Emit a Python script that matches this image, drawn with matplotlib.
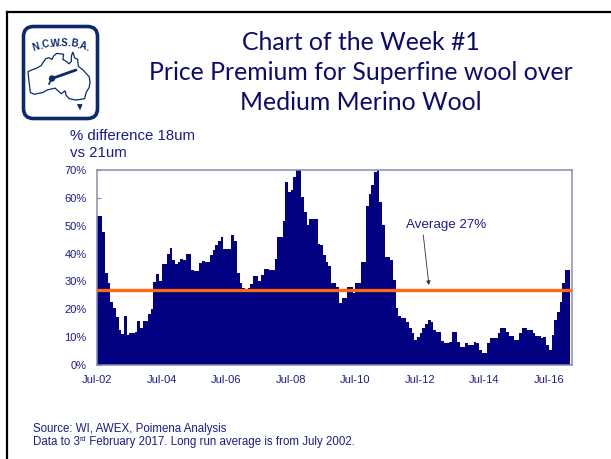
import numpy as np
import matplotlib
matplotlib.use('Agg')
import matplotlib.pyplot as plt
from matplotlib.patches import FancyBboxPatch, Polygon, Circle
from matplotlib.lines import Line2D

# ---------------- data (monthly, Jul-2002 .. Feb-2017) ----------------
premium = [
    53.6, 53.6, 47.9, 33.0, 29.3, 22.5, 20.6, 17.3, 12.6, 11.0,
    17.7, 10.8, 11.4, 11.4, 12.0, 15.8, 13.4, 15.8, 15.8, 18.2,
    20.1, 29.7, 32.5, 30.2, 36.1, 36.1, 39.7, 41.9, 37.7, 36.1,
    37.1, 38.0, 37.7, 39.7, 39.8, 34.1, 33.7, 33.7, 36.5, 37.3,
    36.9, 36.9, 39.5, 41.3, 43.0, 44.5, 46.0, 41.6, 41.6, 41.6,
    46.7, 44.5, 32.9, 29.3, 27.8, 26.5, 27.5, 29.0, 31.9, 31.9,
    30.2, 32.3, 34.5, 34.5, 34.0, 34.0, 37.9, 46.0, 46.0, 51.7,
    65.8, 62.0, 62.8, 67.6, 71.0, 71.0, 60.4, 55.0, 50.3, 52.4,
    52.4, 52.4, 43.3, 43.0, 39.5, 36.9, 35.6, 29.3, 29.3, 28.0,
    22.1, 23.9, 23.9, 27.9, 27.9, 25.7, 29.3, 29.3, 36.9, 36.9,
    57.0, 61.3, 64.6, 69.4, 71.0, 58.6, 50.3, 38.9, 38.9, 37.7,
    30.5, 20.3, 17.7, 16.8, 16.8, 15.6, 13.2, 11.4, 9.0, 10.2,
    11.5, 13.2, 14.6, 16.2, 15.6, 12.6, 12.0, 12.0, 8.6, 7.8,
    7.8, 8.4, 12.0, 12.0, 8.4, 6.6, 6.6, 7.8, 7.2, 7.2,
    8.4, 7.8, 5.4, 4.2, 4.2, 7.8, 9.6, 9.8, 9.8, 11.4,
    13.2, 13.2, 12.0, 10.5, 10.5, 9.0, 9.0, 11.4, 13.2, 13.2,
    12.6, 12.6, 11.4, 10.5, 10.5, 9.6, 10.2, 7.2, 5.4, 10.8,
    16.2, 19.1, 22.7, 29.3, 34.1, 34.1,
]
average = 26.8
average_label = "Average 27%"
x_tick_months = [0, 24, 48, 72, 96, 120, 144, 168]
x_tick_labels = ["Jul-02", "Jul-04", "Jul-06", "Jul-08", "Jul-10", "Jul-12", "Jul-14", "Jul-16"]
y_ticks = [0, 10, 20, 30, 40, 50, 60, 70]
y_tick_labels = ["0%", "10%", "20%", "30%", "40%", "50%", "60%", "70%"]

title_lines = ["Chart of the Week #1",
               "Price Premium for Superfine wool over",
               "Medium Merino Wool"]
ylabel_lines = ["% difference 18um", "vs 21um"]

# ---------------- styling ----------------
NAVY = "#000080"
TEXT = "#1c1c8c"
TITLE = "#0b0b6e"
ORANGE = "#FF6A10"
SPINE = "#8a8ab4"
LOGO = "#0a2a6e"
SANS = ["Liberation Sans", "DejaVu Sans"]

W, H = 611, 459
fig = plt.figure(figsize=(W / 100, H / 100), dpi=100)
fig.patch.set_facecolor("white")


def fx(px):
    return px / W


def fy(py):
    return 1 - py / H


# page frame (left & top edges)
fig.add_artist(Line2D([fx(7), fx(7)], [fy(12), fy(462)], color="black", lw=1.6))
fig.add_artist(Line2D([fx(7), fx(615)], [fy(12), fy(12)], color="black", lw=1.6))

# ---------------- chart ----------------
ax = fig.add_axes([fx(97), fy(365), fx(572) - fx(97), fy(170) - fy(365)])
n = len(premium)
edges = np.arange(n + 1)
ax.fill_between(edges, list(premium) + [premium[-1]], 0, step="post",
                color=NAVY, lw=0, zorder=2)
ax.axhline(average, color=ORANGE, lw=2.4, zorder=3)
ax.set_xlim(0, 176.6)
ax.set_ylim(0, 70)
ax.set_axisbelow(True)
for s in ax.spines.values():
    s.set_color(SPINE)
    s.set_linewidth(1.1)
ax.set_yticks(y_ticks)
ax.set_yticklabels(y_tick_labels, family=SANS, fontsize=8, color=TEXT)
ax.set_xticks(x_tick_months)
ax.set_xticklabels(x_tick_labels, family=SANS, fontsize=8, color=TEXT)
ax.tick_params(axis="y", direction="in", length=3, color=SPINE, pad=7.5)
ax.tick_params(axis="x", length=0, pad=7)

ax.annotate("", xy=(123.4, 28.7), xytext=(121.3, 46.7),
            arrowprops=dict(arrowstyle="-|>", color="#333333", lw=0.6,
                            mutation_scale=6, shrinkA=0, shrinkB=0), zorder=4)
ax.text(129.7, 50.3, average_label, ha="center", va="center",
        family=SANS, fontsize=9.6, color=TEXT)

# ---------------- titles / texts ----------------
for i, line in enumerate(title_lines):
    fig.text(fx(361), fy(50 + 30 * i), line, ha="center", va="baseline",
             family=["Lato", "DejaVu Sans"], fontsize=17.8, color=TITLE)

fig.text(fx(70), fy(140), ylabel_lines[0], ha="left", va="baseline",
         family=SANS, fontsize=10.8, color=TEXT)
fig.text(fx(70), fy(157), ylabel_lines[1], ha="left", va="baseline",
         family=SANS, fontsize=10.8, color=TEXT)

fig.text(fx(33), fy(432), "Source: WI, AWEX, Poimena Analysis", ha="left",
         va="baseline", family=SANS, fontsize=8.3, color=TEXT)

renderer = fig.canvas.get_renderer()
t1 = fig.text(fx(33), fy(445), "Data to 3", ha="left", va="baseline",
              family=SANS, fontsize=8.3, color=TEXT)
bb = t1.get_window_extent(renderer)
t2 = fig.text(bb.x1 / W, fy(441), "rd", ha="left", va="baseline",
              family=SANS, fontsize=5.3, color=TEXT)
bb2 = t2.get_window_extent(renderer)
fig.text(bb2.x1 / W, fy(445), " February 2017. Long run average is from July 2002.",
         ha="left", va="baseline", family=SANS, fontsize=8.3, color=TEXT)

# ---------------- logo ----------------
lax = fig.add_axes([fx(20), fy(122), fx(101) - fx(20), fy(23) - fy(122)])
lax.set_xlim(20, 101)
lax.set_ylim(122, 23)
lax.axis("off")
lax.add_patch(FancyBboxPatch((23.5, 26.5), 74, 92,
                             boxstyle="round,pad=0,rounding_size=10",
                             lw=2.6, ec=LOGO, fc="white"))


def aus(lon, lat):
    return 28 + (lon - 113.5) / 40 * 62, 52 + (-10.7 - lat) / 27.6 * 48


outline = [(113.5, -22), (114, -26.5), (115, -34), (117.5, -35), (123, -34),
           (126, -32.5), (131, -31.5), (135, -34.7), (137.5, -33), (138, -35.5),
           (140, -37.5), (144, -38.3), (147, -38), (150, -37.5), (151, -34),
           (153, -31), (153.5, -28), (153, -25), (151, -23), (149, -21),
           (146, -19), (145.5, -15), (143.5, -14), (142.5, -10.7), (141.5, -13),
           (141.5, -16), (140, -17.5), (138, -16), (136, -15), (136.5, -12),
           (132, -11.5), (130, -13), (129, -15), (127, -14), (125, -14.5),
           (123, -17), (122, -18.5), (119, -20), (116, -21)]
lax.add_patch(Polygon([aus(a, b) for a, b in outline], closed=True,
                      fill=False, ec=LOGO, lw=0.9))
lax.add_patch(Polygon([(77.5, 104.5), (82, 104.5), (80, 109.5)], closed=True,
                      fc=LOGO, ec=LOGO, lw=0.6))
lax.plot([52, 76], [78.5, 70], color=LOGO, lw=2.0, solid_capstyle="round")
lax.add_patch(Circle((52, 78.5), 3.2, fc=LOGO, ec="none"))
lax.plot([51, 49], [80, 84], color=LOGO, lw=1.2)

letters = "N.C.W.S.B.A."
weights = [1.0 if c != "." else 0.35 for c in letters]
total = sum(weights)
R = 85.0
cx, cy = 61.0, 43.0 + R
half = np.degrees(np.arcsin(28.0 / R))
acc = 0.0
for c, w in zip(letters, weights):
    frac = (acc + w / 2) / total
    acc += w
    ang = -half + 2 * half * frac
    px = cx + R * np.sin(np.radians(ang))
    py = cy - R * np.cos(np.radians(ang))
    lax.text(px, py, c, ha="center", va="center", rotation=-ang,
             family=SANS, fontweight="bold", fontsize=7, color=LOGO)

fig.savefig("out.png", dpi=100, facecolor="white")
